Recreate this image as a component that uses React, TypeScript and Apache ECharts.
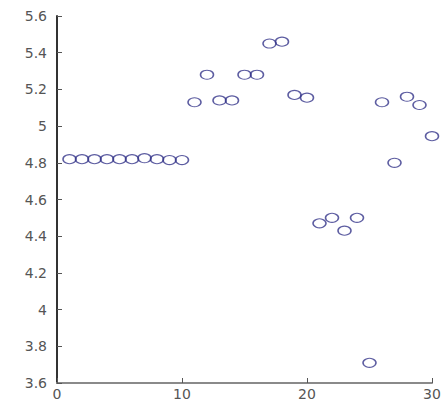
import React, { useEffect, useRef } from "react";
import * as echarts from "echarts";

const xValues = [1,2,3,4,5,6,7,8,9,10,11,12,13,14,15,16,17,18,19,20,21,22,23,24,25,26,27,28,29,30];
const yValues = [4.82,4.82,4.82,4.82,4.82,4.82,4.825,4.82,4.815,4.815,5.13,5.28,5.14,5.14,5.28,5.28,5.45,5.46,5.17,5.155,4.47,4.5,4.43,4.5,3.71,5.13,4.8,5.16,5.115,4.945];
const xTicks = [0, 10, 20, 30];
const yTicks = [3.6,3.8,4,4.2,4.4,4.6,4.8,5,5.2,5.4,5.6];

export default function App() {
  const ref = useRef<HTMLDivElement>(null);
  useEffect(() => {
    if (!ref.current) return;
    const chart = echarts.init(ref.current, undefined, { renderer: "svg" });
    chart.setOption({
      animation: false,
      backgroundColor: "#fff",
      grid: { left: 57, right: 13, top: 16, bottom: 20 },
      xAxis: {
        type: "value",
        min: xTicks[0],
        max: xTicks[xTicks.length - 1],
        interval: 10,
        splitLine: { show: false },
        axisLine: { show: true, lineStyle: { color: "#8a8a8a", width: 2 } },
        axisTick: { show: true, inside: true, length: 5, lineStyle: { color: "#555", width: 1 } },
        axisLabel: { color: "#555", fontSize: 14, fontFamily: "DejaVu Sans", margin: 4 },
      },
      yAxis: {
        type: "value",
        min: 3.6,
        max: 5.6,
        interval: 0.2,
        splitLine: { show: false },
        axisLine: { show: true, lineStyle: { color: "#333", width: 2 } },
        axisTick: { show: true, inside: true, length: 5, lineStyle: { color: "#555", width: 1 } },
        axisLabel: {
          color: "#555",
          fontSize: 14,
          fontFamily: "DejaVu Sans",
          margin: 10,
          formatter: (v: number) => {
            const t = yTicks.find((k) => Math.abs(k - v) < 1e-6);
            return t === undefined ? "" : String(t);
          },
        },
      },
      series: [
        {
          type: "scatter",
          data: xValues.map((x, i) => [x, yValues[i]]),
          symbol: "circle",
          symbolSize: [13, 9],
          itemStyle: { color: "rgba(0,0,0,0)", borderColor: "#34348a", borderWidth: 1.3 },
        },
      ],
    });
    return () => chart.dispose();
  }, []);
  return <div ref={ref} style={{ width: 445, height: 403, position: "absolute", left: 0, top: 0 }} />;
}
